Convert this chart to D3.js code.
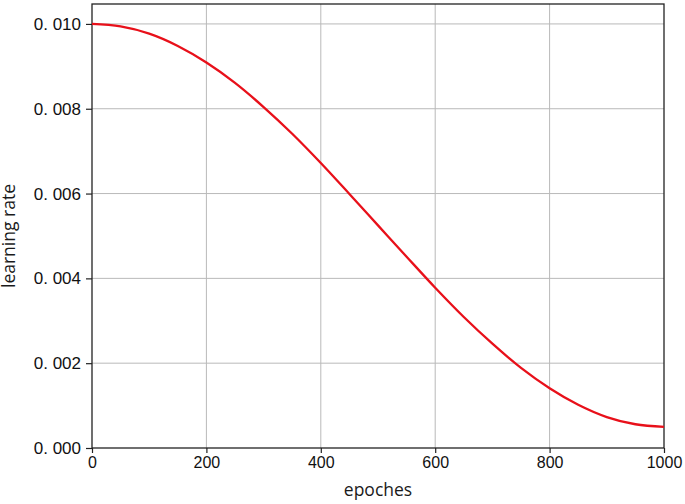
<!DOCTYPE html>
<html>
<head>
<meta charset="utf-8">
<script src="https://cdn.jsdelivr.net/npm/d3@7"></script>
<style>
  html, body { margin: 0; padding: 0; background: #fff; }
  svg { display: block; }
</style>
</head>
<body>
<svg id="chart" width="685" height="504"></svg>
<script>
// values, every 50 epochs
const epochs = [0, 50, 100, 150, 200, 250, 300, 350, 400, 450, 500,
                550, 600, 650, 700, 750, 800, 850, 900, 950, 1000];
const learningRate = [0.01, 0.00994, 0.00977, 0.00948, 0.00909, 0.00861, 0.00804,
                      0.00741, 0.00672, 0.00599, 0.00525, 0.00451, 0.00378,
                      0.00309, 0.00246, 0.00189, 0.00141, 0.00102, 0.00073,
                      0.00056, 0.0005];
const xTicks = [0, 200, 400, 600, 800, 1000];
const yTicks = [0, 0.002, 0.004, 0.006, 0.008, 0.010];
const yTickLabels = ["0. 000", "0. 002", "0. 004", "0. 006", "0. 008", "0. 010"];

const margin = { top: 4, right: 21, bottom: 56, left: 92 };
const width = 685, height = 504;
const innerWidth = width - margin.left - margin.right;
const innerHeight = height - margin.top - margin.bottom;

const svg = d3.select("#chart");
const g = svg.append("g")
  .attr("transform", `translate(${margin.left},${margin.top})`);

const xScale = d3.scaleLinear().domain([0, 1000]).range([0, innerWidth]);
const yScale = d3.scaleLinear().domain([0, 0.01047]).range([innerHeight, 0]);

// grid
g.append("g").selectAll("line")
  .data(xTicks.slice(1, -1))
  .join("line")
  .attr("x1", d => xScale(d)).attr("x2", d => xScale(d))
  .attr("y1", 0).attr("y2", innerHeight)
  .attr("stroke", "#b9b9b9").attr("stroke-width", 1);

g.append("g").selectAll("line")
  .data(yTicks.slice(1))
  .join("line")
  .attr("x1", 0).attr("x2", innerWidth)
  .attr("y1", d => yScale(d)).attr("y2", d => yScale(d))
  .attr("stroke", "#b9b9b9").attr("stroke-width", 1);

// axes
const xAxis = g.append("g")
  .attr("transform", `translate(0,${innerHeight})`)
  .call(d3.axisBottom(xScale).tickValues(xTicks).tickSize(5).tickPadding(4).tickFormat(d3.format("d")));

const yAxis = g.append("g")
  .call(d3.axisLeft(yScale).tickValues(yTicks).tickSize(6).tickPadding(5)
    .tickFormat((d, i) => yTickLabels[i]));

[xAxis, yAxis].forEach(a => {
  a.attr("font-family", "'Liberation Sans', Arial, sans-serif");
  a.select(".domain").remove();
  a.selectAll(".tick line").attr("stroke", "#222").attr("stroke-width", 1.2);
  a.selectAll(".tick text").attr("fill", "#111");
});
xAxis.attr("font-size", 16);
yAxis.attr("font-size", 17);

// frame
g.append("rect")
  .attr("x", 0).attr("y", 0)
  .attr("width", innerWidth).attr("height", innerHeight)
  .attr("fill", "none")
  .attr("stroke", "#222")
  .attr("stroke-width", 1.3);

// curve
const line = d3.line()
  .x((d, i) => xScale(epochs[i]))
  .y(d => yScale(d))
  .curve(d3.curveMonotoneX);

g.append("path")
  .datum(learningRate)
  .attr("d", line)
  .attr("fill", "none")
  .attr("stroke", "#e8101a")
  .attr("stroke-width", 2.3);

// labels
svg.append("text")
  .attr("x", margin.left + innerWidth / 2)
  .attr("y", 496)
  .attr("text-anchor", "middle")
  .style("font-family", "'Open Sans', 'Noto Sans', sans-serif")
  .style("font-size", "17.5px")
  .attr("fill", "#1a1a1a")
  .text("epoches");

svg.append("text")
  .attr("transform", `translate(15,236) rotate(-90)`)
  .attr("text-anchor", "middle")
  .style("font-family", "'Open Sans', 'Noto Sans', sans-serif")
  .style("font-size", "17.5px")
  .attr("fill", "#1a1a1a")
  .text("learning rate");
</script>
</body>
</html>
